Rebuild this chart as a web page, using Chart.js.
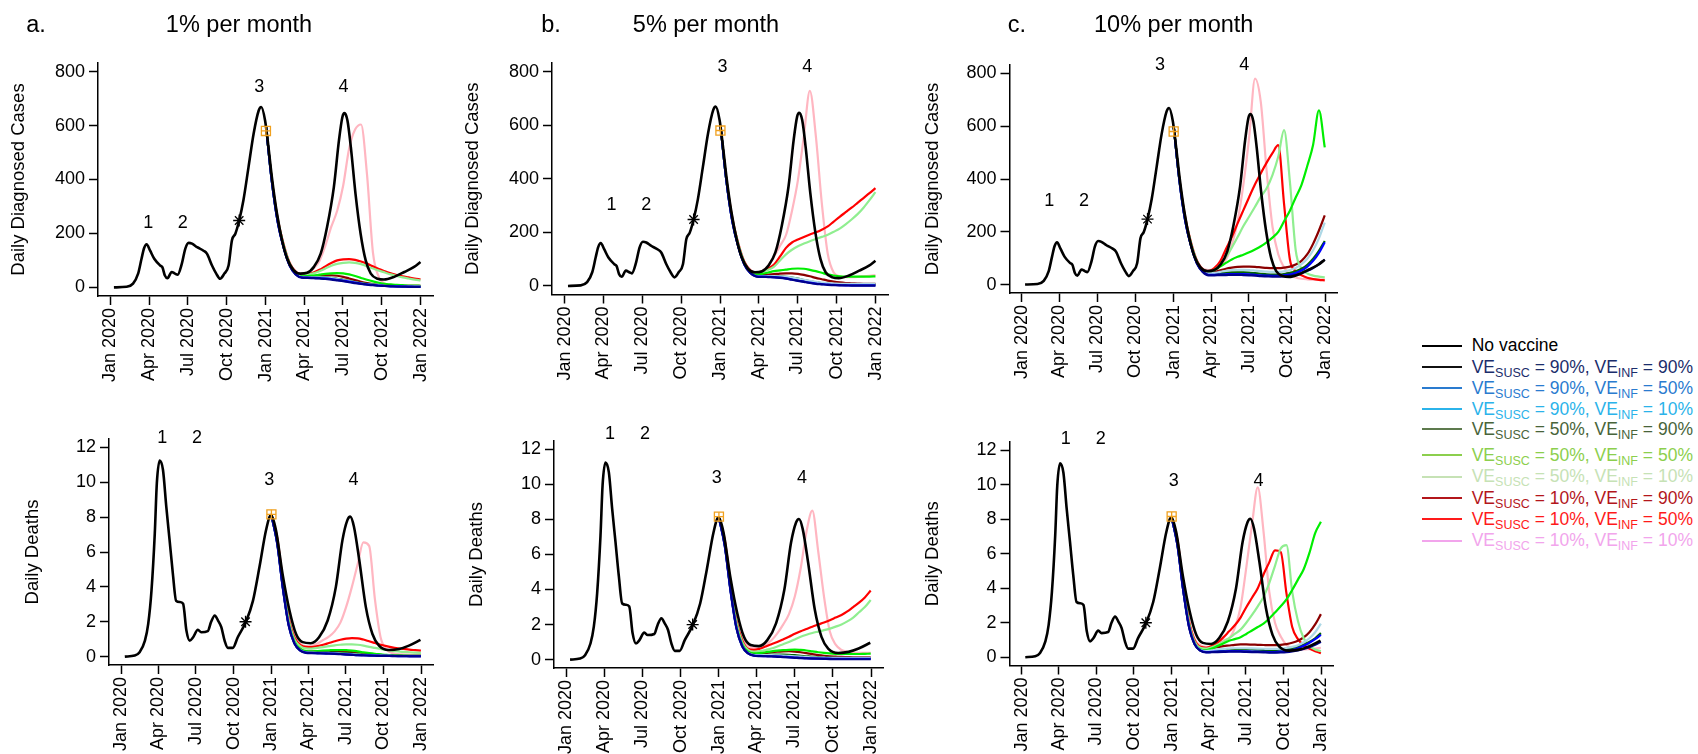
<!DOCTYPE html>
<html>
<head>
<meta charset="utf-8">
<script src="https://cdn.jsdelivr.net/npm/chart.js@4"></script>
<style>
  body { margin: 0; background: #fff; }
  #page { position: relative; width: 1698px; height: 754px; overflow: hidden;
          font-family: "Liberation Sans", Arial, Helvetica, sans-serif; }
  #page canvas { position: absolute; }
  .leg-row { position: absolute; left: 1421.7px; height: 22px; display: flex; align-items: center;
             font-size: 17.5px; white-space: nowrap; }
  .leg-row .swatch { width: 40px; height: 0; border-top: 2px solid; margin-right: 10px; }
  .leg-row sub { font-size: 12.5px; vertical-align: -0.28em; line-height: 0; }
</style>
</head>
<body>
<div id="page"></div>
<script>
// x axis: days since 1 Jan 2020
const monthDays = [0, 91, 182, 274, 366, 456, 547, 639, 731];
const monthLabels = ['Jan 2020', 'Apr 2020', 'Jul 2020', 'Oct 2020', 'Jan 2021',
                     'Apr 2021', 'Jul 2021', 'Oct 2021', 'Jan 2022'];
const caseTicks = [0, 200, 400, 600, 800];
const deathTicks = [0, 2, 4, 6, 8, 10, 12];

// observed / no-vaccine trajectory
const noVacCaseDays = [8, 38, 53, 65, 73, 79, 85, 93, 103, 117, 122, 128, 134, 144, 152, 158, 168, 176, 184,
  192, 204, 219, 227, 239, 249, 258, 268, 278, 286, 294, 303, 313, 325, 337, 349, 355, 364, 372, 380, 392,
  404, 416, 431, 447, 463, 479, 495, 510, 526, 538, 546, 551, 558, 566, 577, 589, 601, 613, 629, 644, 668,
  692, 715, 730];
const noVacCases = [0, 2, 14, 51, 106, 145, 160, 137, 106, 81, 75, 44, 34, 57, 51, 47, 88, 143, 165,
  162, 149, 136, 125, 81, 51, 32, 51, 81, 175, 199, 248, 323, 446, 570, 656, 669, 619, 520, 409, 274,
  175, 107, 64, 51, 54, 76, 125, 224, 372, 545, 631, 646, 619, 520, 347, 199, 100, 51, 32, 29, 39,
  57, 76, 94];
const noVacDeathDays = [9, 33, 45, 58, 66, 74, 82, 87, 94, 102, 110, 118, 126, 134, 143, 151, 159, 167, 175,
  187, 195, 211, 219, 228, 236, 244, 252, 260, 272, 284, 304, 321, 337, 353, 365, 377, 393, 410, 426,
  442, 462, 482, 503, 523, 539, 551, 558, 567, 580, 596, 612, 628, 652, 677, 701, 729];
const noVacDeaths = [0, 0.06, 0.25, 0.92, 1.88, 3.8, 7.07, 9.95, 11.25, 10.7, 8.6, 6.7, 4.76, 3.2, 3.13,
  3.03, 1.5, 0.92, 1.1, 1.54, 1.4, 1.46, 1.98, 2.36, 2.07, 1.69, 0.92, 0.5, 0.5, 1.11, 2.0, 3.2, 5.15,
  7.26, 8.12, 7.26, 4.76, 2.65, 1.3, 0.83, 0.77, 1.11, 2.07, 4.0, 6.68, 7.83, 8.03, 7.45, 5.53, 2.84,
  1.3, 0.63, 0.38, 0.44, 0.63, 0.96];

// markers: timeline star and vaccination start square
const markerDays = [303, 366];
const markerCases = [248, 580];
const markerDeaths = [2.0, 8.16];

// vaccination scenarios, sampled every two weeks from 1 Jan 2021
const vacDays = [366, 380, 394, 408, 422, 436, 450, 464, 478, 492, 506, 520, 534, 548, 562, 576, 590,
  604, 618, 632, 646, 660, 674, 688, 702, 716, 730];
const veSusc = [90, 90, 90, 50, 50, 50, 10, 10, 10];
const veInf = [90, 50, 10, 90, 50, 10, 90, 50, 10];

// waning 1% per month
const casesOnePct = [
  [600,392,240,145,80,48, 36,35,34,33,31,29,26,23,19,16,13,10,8,6,5,4,3,3,2,2,2],
  [600,392,240,146,81,49, 37,36,35,34,33,31,28,25,21,18,14,11,9,7,5,4,4,3,3,2,2],
  [600,393,242,147,82,50, 38,37,37,37,36,34,31,27,23,19,15,12,10,8,6,5,5,4,4,4,4],
  [600,393,242,147,82,50, 38,38,38,38,37,35,32,28,24,20,16,13,10,8,7,6,5,4,4,4,3],
  [600,395,245,150,85,52, 41,42,44,47,50,52,53,52,48,42,35,28,22,17,13,11,9,8,7,7,6],
  [600,397,250,155,88,56, 46,47,52,60,70,80,87,91,93,91,86,78,70,62,55,48,42,37,33,29,26],
  [600,395,245,150,85,52, 41,41,42,44,45,45,43,39,33,27,21,16,12,9,7,6,5,5,4,4,4],
  [600,398,252,157,90,58, 48,49,55,65,78,90,100,104,105,102,96,88,78,68,60,52,46,41,37,33,30],
  [600,400,255,160,92,60, 50,53,70,98,155,225,285,378,515,585,604,420,130,38,14,9,8,8,8,8,8]
];
const deathsOnePct = [
  [8.1,6.5,3.9,1.8,0.75,0.35, 0.22,0.2,0.19,0.18,0.17,0.16,0.14,0.12,0.1,0.08,0.07,0.06,0.05,0.04,0.04,0.03,0.03,0.03,0.02,0.02,0.02],
  [8.1,6.5,3.9,1.8,0.76,0.36, 0.23,0.21,0.2,0.19,0.18,0.17,0.15,0.13,0.11,0.09,0.08,0.07,0.06,0.05,0.04,0.04,0.03,0.03,0.03,0.03,0.03],
  [8.1,6.55,3.95,1.85,0.78,0.38, 0.25,0.23,0.22,0.22,0.21,0.2,0.18,0.16,0.14,0.12,0.1,0.09,0.08,0.07,0.06,0.05,0.05,0.05,0.05,0.05,0.05],
  [8.1,6.55,3.95,1.85,0.78,0.38, 0.26,0.25,0.25,0.25,0.25,0.24,0.22,0.2,0.17,0.14,0.12,0.1,0.09,0.08,0.07,0.06,0.06,0.05,0.05,0.05,0.05],
  [8.1,6.6,4.0,1.9,0.85,0.45, 0.32,0.3,0.32,0.34,0.36,0.38,0.38,0.37,0.34,0.3,0.25,0.2,0.16,0.13,0.1,0.08,0.07,0.06,0.05,0.05,0.05],
  [8.1,6.7,4.2,2.1,1.0,0.6, 0.47,0.46,0.5,0.55,0.6,0.65,0.68,0.7,0.7,0.68,0.63,0.56,0.5,0.44,0.38,0.33,0.3,0.27,0.25,0.23,0.21],
  [8.1,6.6,4.0,1.9,0.85,0.45, 0.3,0.29,0.3,0.31,0.32,0.32,0.31,0.29,0.26,0.22,0.18,0.15,0.12,0.1,0.08,0.07,0.06,0.05,0.05,0.05,0.05],
  [8.1,6.8,4.3,2.2,1.1,0.68, 0.56,0.55,0.6,0.68,0.78,0.88,0.97,1.03,1.06,1.05,0.98,0.88,0.78,0.68,0.6,0.53,0.48,0.44,0.4,0.37,0.34],
  [8.1,6.9,4.4,2.3,1.2,0.75, 0.6,0.62,0.75,0.95,1.15,1.45,1.95,2.85,4.0,5.3,6.55,6.35,3.3,1.1,0.4,0.2,0.15,0.13,0.12,0.12,0.12]
];

// waning 5% per month
const casesFivePct = [
  [600,392,240,145,80,48, 35,34,33,32,30,27,23,19,15,11,8,6,4,3,2,2,1,1,1,1,1],
  [600,392,240,146,81,49, 36,35,34,33,31,28,24,20,16,12,9,7,5,4,3,2,2,2,2,2,2],
  [600,393,242,147,82,50, 37,37,37,37,36,34,31,27,23,19,15,12,10,9,8,8,8,8,8,8,8],
  [600,393,242,147,82,50, 37,37,37,37,36,34,31,27,22,18,14,11,8,7,6,5,5,5,5,5,5],
  [600,395,245,150,85,52, 42,45,50,55,58,61,64,65,64,60,55,49,43,39,36,35,35,35,35,35,36],
  [600,397,250,155,88,56, 48,52,60,72,95,118,135,148,158,167,175,183,191,202,214,230,248,268,292,320,350],
  [600,395,245,150,85,52, 38,40,42,44,46,47,47,45,41,36,30,25,20,16,13,11,10,9,8,8,8],
  [600,398,252,157,90,58, 50,55,65,80,110,142,162,173,183,192,200,210,222,240,258,275,292,310,328,346,365],
  [600,400,255,160,92,60, 47,55,75,110,150,190,280,395,560,728,560,310,120,50,36,33,33,34,36,38,40]
];
const deathsFivePct = [
  [8.1,6.5,3.9,1.8,0.75,0.35, 0.22,0.2,0.19,0.18,0.16,0.14,0.12,0.1,0.08,0.07,0.06,0.05,0.04,0.03,0.03,0.02,0.02,0.02,0.02,0.02,0.02],
  [8.1,6.5,3.9,1.8,0.76,0.36, 0.23,0.21,0.2,0.19,0.18,0.16,0.14,0.12,0.1,0.08,0.07,0.06,0.05,0.05,0.04,0.04,0.04,0.04,0.04,0.04,0.04],
  [8.1,6.55,3.95,1.85,0.78,0.38, 0.26,0.25,0.25,0.25,0.24,0.23,0.21,0.19,0.17,0.15,0.13,0.12,0.11,0.1,0.1,0.1,0.1,0.1,0.1,0.1,0.1],
  [8.1,6.55,3.95,1.85,0.78,0.38, 0.27,0.26,0.27,0.28,0.28,0.28,0.27,0.25,0.22,0.19,0.16,0.14,0.12,0.11,0.1,0.09,0.09,0.09,0.09,0.09,0.09],
  [8.1,6.6,4.0,1.9,0.85,0.45, 0.35,0.37,0.42,0.47,0.51,0.54,0.56,0.57,0.55,0.52,0.47,0.42,0.38,0.35,0.33,0.32,0.32,0.32,0.32,0.33,0.34],
  [8.1,6.7,4.2,2.1,1.0,0.55, 0.45,0.48,0.55,0.63,0.75,0.88,1.0,1.15,1.3,1.42,1.52,1.6,1.68,1.77,1.88,2.0,2.18,2.4,2.7,3.0,3.4],
  [8.1,6.6,4.0,1.9,0.85,0.45, 0.33,0.35,0.38,0.42,0.45,0.47,0.48,0.46,0.42,0.37,0.31,0.26,0.22,0.19,0.17,0.15,0.14,0.13,0.13,0.13,0.13],
  [8.1,6.8,4.3,2.2,1.1,0.62, 0.55,0.62,0.75,0.88,1.0,1.15,1.3,1.47,1.62,1.75,1.88,2.0,2.12,2.25,2.4,2.55,2.75,3.0,3.25,3.55,3.94],
  [8.1,6.9,4.4,2.3,1.2,0.8, 0.65,0.7,0.85,1.1,1.5,2.0,2.6,3.6,5.2,7.3,8.5,6.2,3.6,1.6,0.85,0.55,0.45,0.4,0.38,0.38,0.38]
];

// waning 10% per month
const casesTenPct = [
  [600,392,240,145,80,48, 35,35,36,36,37,37,36,35,34,32,31,30,30,31,33,37,43,52,63,77,95],
  [600,392,240,146,81,49, 37,37,38,39,40,40,40,39,37,35,34,33,33,35,38,44,53,68,90,120,160],
  [600,393,242,147,82,50, 42,44,48,52,55,56,56,55,53,51,49,48,48,50,55,63,77,98,130,175,235],
  [600,393,242,147,82,50, 40,41,43,45,46,46,46,45,43,41,39,38,38,40,44,50,60,75,98,128,165],
  [600,395,245,150,85,52, 47,55,68,82,95,105,113,122,133,145,160,178,200,240,280,330,378,450,530,660,520],
  [600,397,250,155,88,56, 47,55,75,105,140,180,222,258,295,333,365,415,485,585,390,130,60,42,34,30,27],
  [600,395,245,150,85,52, 45,48,54,60,64,67,68,68,67,65,63,62,62,64,68,76,90,115,155,205,262],
  [600,398,252,157,90,58, 50,62,88,135,180,232,282,332,380,422,462,498,528,305,95,50,35,26,21,18,16],
  [600,400,255,160,92,60, 55,58,72,95,150,240,380,560,780,690,430,220,115,65,38,27,22,20,19,19,19]
];
const deathsTenPct = [
  [8.1,6.5,3.9,1.8,0.75,0.38, 0.28,0.29,0.3,0.31,0.32,0.32,0.32,0.31,0.3,0.29,0.28,0.27,0.27,0.28,0.3,0.34,0.4,0.48,0.58,0.72,0.9],
  [8.1,6.5,3.9,1.8,0.76,0.39, 0.3,0.31,0.33,0.34,0.35,0.35,0.35,0.34,0.33,0.32,0.31,0.3,0.3,0.32,0.36,0.42,0.52,0.66,0.84,1.05,1.3],
  [8.1,6.55,3.95,1.85,0.78,0.42, 0.35,0.4,0.45,0.48,0.5,0.52,0.52,0.52,0.51,0.5,0.49,0.48,0.48,0.5,0.54,0.6,0.7,0.87,1.1,1.45,1.95],
  [8.1,6.55,3.95,1.85,0.78,0.4, 0.33,0.36,0.4,0.43,0.45,0.46,0.46,0.46,0.45,0.44,0.43,0.42,0.42,0.44,0.47,0.52,0.6,0.72,0.88,1.1,1.4],
  [8.1,6.6,4.0,1.9,0.8,0.45, 0.4,0.5,0.65,0.8,0.95,1.05,1.16,1.35,1.55,1.75,1.95,2.25,2.6,2.95,3.35,3.9,4.5,5.1,6.05,7.2,7.85],
  [8.1,6.7,4.1,2.0,0.9,0.55, 0.5,0.58,0.72,0.9,1.1,1.35,1.6,2.0,2.45,2.95,3.5,4.3,5.3,6.3,6.5,3.8,2.1,1.1,0.65,0.45,0.35],
  [8.1,6.6,4.0,1.9,0.85,0.5, 0.42,0.5,0.58,0.64,0.68,0.72,0.74,0.74,0.73,0.72,0.71,0.7,0.7,0.72,0.76,0.84,0.96,1.15,1.45,1.9,2.5],
  [8.1,6.8,4.2,2.1,1.0,0.6, 0.55,0.65,0.85,1.15,1.5,1.85,2.3,2.9,3.45,4.0,4.8,5.5,6.2,6.1,3.7,1.75,1.05,0.7,0.5,0.35,0.23],
  [8.1,6.9,4.3,2.2,1.05,0.7, 0.6,0.65,0.8,1.0,1.1,1.7,2.9,5.2,7.7,9.85,7.3,3.8,2.0,1.2,0.72,0.52,0.45,0.45,0.47,0.5,0.55]
];

// line colours in the panels, and in the side legend
const lineColors = ['#00008b', '#0000ff', '#add8e6', '#006400', '#00ee00', '#90ee90', '#8b0000', '#ff0000', '#ffb6c1'];
const legendText = ['#000000', '#1b2d6b', '#2a7bcf', '#2bb3ea', '#48643a', '#8ccf4d', '#c6e2b5', '#b3161b', '#ff1a1a', '#f2a5ec'];
const legendSwatch = ['#000000', '#111111', '#2a7bcf', '#2bb3ea', '#5d7a4d', '#8ccf4d', '#c6e2b5', '#b3161b', '#ff1a1a', '#f2a5ec'];
const legendRowY = [345.7, 367.3, 388.3, 409.3, 429.3, 455, 476.7, 498.3, 519.3, 540.7];

const FONT = '"Liberation Sans", Arial, Helvetica, sans-serif';
Chart.defaults.font.family = FONT;
Chart.defaults.color = '#000';

const panels = [
  { kind: 'cases', series: casesOnePct, left: 0, top: 0, width: 450, height: 400,
    area: [98, 63, 433, 296], yTitleDx: -79, letter: 'a.', letterX: 36, title: '1% per month', titleX: 239,
    waves: [[89, 239], [170, 239], [350, 744], [549, 744]] },
  { kind: 'deaths', series: deathsOnePct, left: 0, top: 405, width: 450, height: 349,
    area: [109, 439, 433, 665], yTitleDx: -76,
    waves: [[100, 12.54], [185, 12.54], [361, 10.1], [566, 10.1]] },
  { kind: 'cases', series: casesFivePct, left: 455, top: 0, width: 450, height: 400,
    area: [552, 63, 888, 294.5], yTitleDx: -78.7, letter: 'b.', letterX: 96, title: '5% per month', titleX: 251,
    waves: [[110, 302], [192, 302], [371, 816], [570, 816]] },
  { kind: 'deaths', series: deathsFivePct, left: 455, top: 405, width: 450, height: 349,
    area: [554, 441, 883, 668], yTitleDx: -77.3,
    waves: [[105, 12.86], [189, 12.86], [361, 10.39], [565, 10.39]] },
  { kind: 'cases', series: casesTenPct, left: 910, top: 0, width: 450, height: 400,
    area: [1009.5, 65, 1337, 293], yTitleDx: -76.8, letter: 'c.', letterX: 107, title: '10% per month', titleX: 263.7,
    waves: [[66, 316], [150, 316], [333, 831], [536, 831]] },
  { kind: 'deaths', series: deathsTenPct, left: 910, top: 405, width: 450, height: 349,
    area: [1009.5, 442, 1333, 665.5], yTitleDx: -76.2,
    waves: [[108, 12.68], [193, 12.68], [371, 10.2], [578, 10.2]] }
];

const page = document.getElementById('page');

function toPoints(xs, ys) {
  return xs.map((x, i) => ({ x: x, y: ys[i] }));
}

// wave numbers, panel titles and the rotated y-axis title
function textPlugin(p) {
  return {
    id: 'panelText',
    afterDraw(chart) {
      const { ctx, chartArea, scales } = chart;
      ctx.save();
      ctx.fillStyle = '#000';
      ctx.textAlign = 'center';
      ctx.textBaseline = 'middle';
      ctx.font = '18px ' + FONT;
      p.waves.forEach((w, i) => {
        ctx.fillText(String(i + 1), scales.x.getPixelForValue(w[0]), scales.y.getPixelForValue(w[1]));
      });
      if (p.title) {
        ctx.textBaseline = 'alphabetic';
        ctx.font = '23.5px ' + FONT;
        ctx.fillText(p.letter, p.letterX, 32);
        ctx.fillText(p.title, p.titleX, 32);
      }
      ctx.translate(chartArea.left + p.yTitleDx, (chartArea.top + chartArea.bottom) / 2);
      ctx.rotate(-Math.PI / 2);
      ctx.textBaseline = 'middle';
      ctx.font = '18.5px ' + FONT;
      ctx.fillText(p.kind === 'cases' ? 'Daily Diagnosed Cases' : 'Daily Deaths', 0, 0);
      ctx.restore();
    }
  };
}

function makePanel(p) {
  const canvas = document.createElement('canvas');
  canvas.width = p.width;
  canvas.height = p.height;
  canvas.style.left = p.left + 'px';
  canvas.style.top = p.top + 'px';
  page.appendChild(canvas);

  const padL = p.area[0] - p.left;
  const padT = p.area[1] - p.top;
  const padR = p.left + p.width - p.area[2];
  const padB = p.top + p.height - p.area[3];
  const isCases = p.kind === 'cases';
  const marks = isCases ? markerCases : markerDeaths;

  // earlier datasets are painted last, so markers and the no-vaccine line sit on top
  const datasets = [
    { data: [{ x: markerDays[1], y: marks[1] }], showLine: false, pointStyle: 'cross', pointRadius: 4.5,
      pointBorderColor: '#f0a01e', pointBorderWidth: 1.3 },
    { data: [{ x: markerDays[1], y: marks[1] }], showLine: false, pointStyle: 'rect', pointRadius: 6.4,
      pointBorderColor: '#f0a01e', pointBackgroundColor: 'rgba(0,0,0,0)', pointBorderWidth: 1.3 },
    { data: [{ x: markerDays[0], y: marks[0] }], showLine: false, pointStyle: 'star', pointRadius: 6,
      pointBorderColor: '#000', pointBorderWidth: 1.3 },
    { data: isCases ? toPoints(noVacCaseDays, noVacCases) : toPoints(noVacDeathDays, noVacDeaths),
      borderColor: '#000', borderWidth: 2.6, pointRadius: 0, cubicInterpolationMode: 'monotone' }
  ];
  p.series.forEach((vals, k) => {
    datasets.push({
      data: toPoints(vacDays, vals),
      borderColor: lineColors[k], borderWidth: 2.2, pointRadius: 0, cubicInterpolationMode: 'monotone'
    });
  });

  new Chart(canvas, {
    type: 'line',
    data: { datasets: datasets },
    options: {
      responsive: false,
      animation: false,
      events: [],
      layout: { padding: { left: 0, top: padT, right: padR, bottom: 0 } },
      plugins: { legend: { display: false }, tooltip: { enabled: false } },
      scales: {
        x: {
          type: 'linear', min: -29.5, max: 759.5,
          afterBuildTicks: s => { s.ticks = monthDays.map(v => ({ value: v })); },
          afterFit: s => { s.height = padB; },
          ticks: {
            autoSkip: false, minRotation: 90, maxRotation: 90, padding: 3,
            color: '#000', font: { size: 18 },
            callback: v => monthLabels[monthDays.indexOf(v)]
          },
          grid: { drawOnChartArea: false, drawTicks: true, tickLength: 9, tickWidth: 1.5, tickColor: '#000' },
          border: { display: true, color: '#000', width: 1.5 }
        },
        y: {
          type: 'linear',
          min: isCases ? -32 : -0.48, max: isCases ? 832 : 12.48,
          afterBuildTicks: s => { s.ticks = (isCases ? caseTicks : deathTicks).map(v => ({ value: v })); },
          afterFit: s => { s.width = padL; },
          ticks: { padding: 4, color: '#000', font: { size: 18 } },
          grid: { drawOnChartArea: false, drawTicks: true, tickLength: 9, tickWidth: 1.5, tickColor: '#000' },
          border: { display: true, color: '#000', width: 1.5 }
        }
      }
    },
    plugins: [textPlugin(p)]
  });
}

panels.forEach(makePanel);

// side legend
function addLegendRow(i, html) {
  const row = document.createElement('div');
  row.className = 'leg-row';
  row.style.top = (legendRowY[i] - 11) + 'px';
  row.style.color = legendText[i];
  row.innerHTML = '<span class="swatch" style="border-color:' + legendSwatch[i] + '"></span><span>' + html + '</span>';
  page.appendChild(row);
}
addLegendRow(0, 'No vaccine');
veSusc.forEach((s, k) => {
  addLegendRow(k + 1, 'VE<sub>SUSC</sub> = ' + s + '%, VE<sub>INF</sub> = ' + veInf[k] + '%');
});
</script>
</body>
</html>
